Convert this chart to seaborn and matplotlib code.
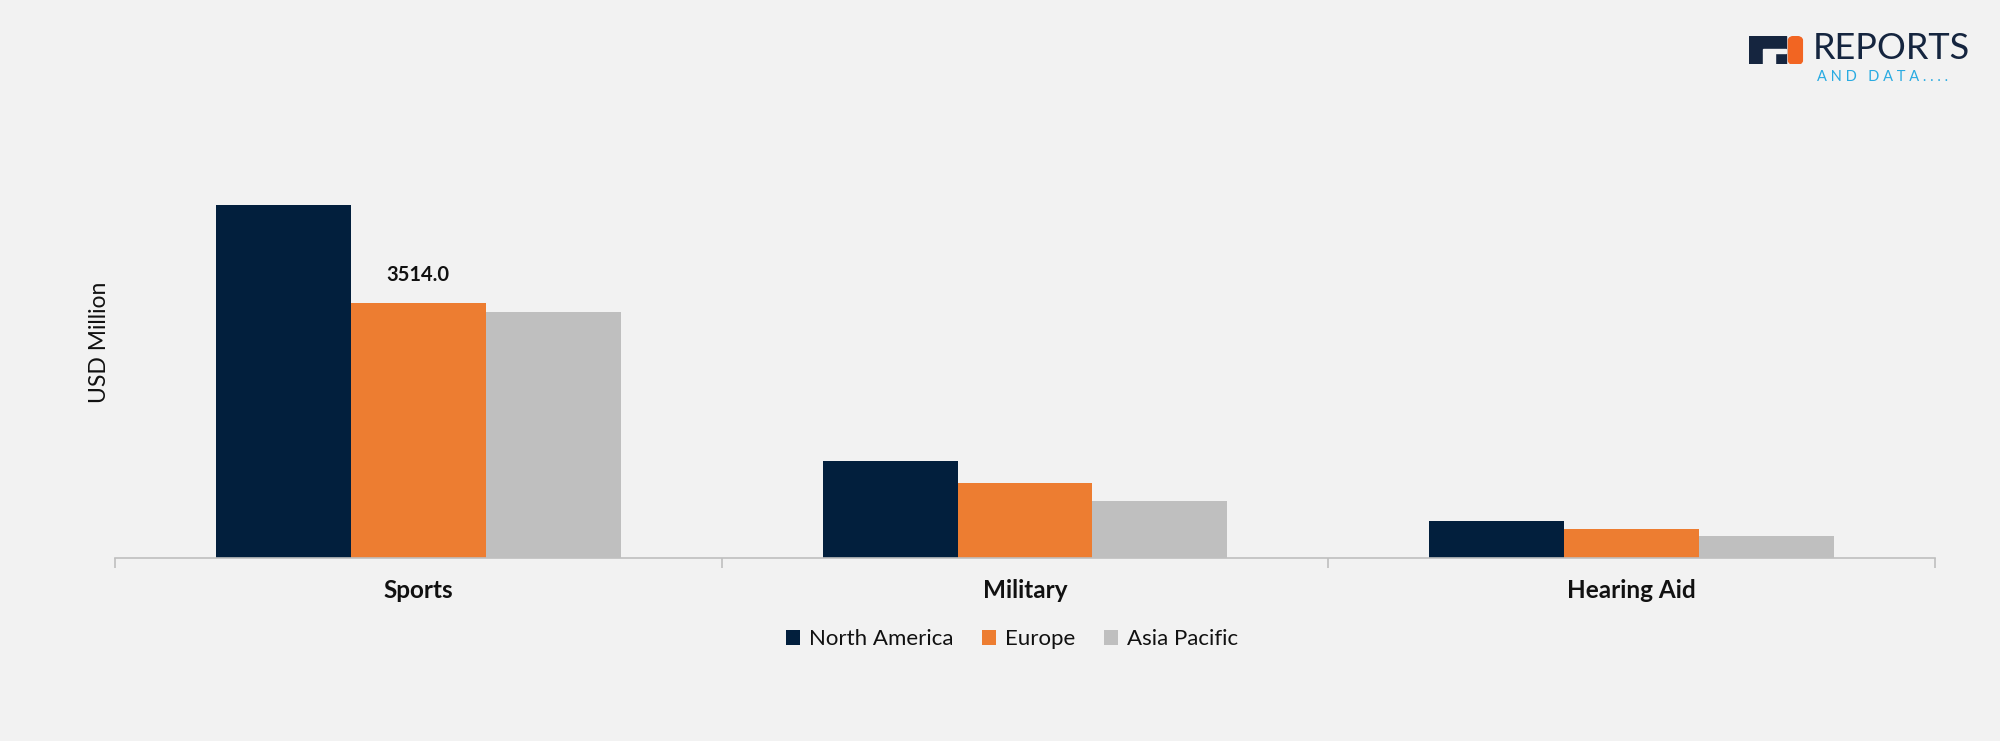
import pandas as pd
import matplotlib.pyplot as plt
import seaborn as sns
from matplotlib.patches import Rectangle, FancyBboxPatch

# data (USD Million)
categories = ['Sports', 'Military', 'Hearing Aid']
regions = ['North America', 'Europe', 'Asia Pacific']
north_america = [4876, 1335, 515]
europe = [3514.0, 1032, 405]
asia_pacific = [3390, 785, 305]

colors = ['#021F3D', '#ED7D31', '#BFBFBF']
bg = '#F2F2F2'

df = pd.DataFrame({
    'Application': categories * 3,
    'Region': [r for r in regions for _ in categories],
    'Value': north_america + europe + asia_pacific,
})

sns.set_theme(style='white')
plt.rcParams['font.family'] = ['Lato', 'DejaVu Sans']

fig = plt.figure(figsize=(20, 7.41), dpi=100, facecolor=bg)
ax = fig.add_axes([0.0575, 0.247, 0.91, 0.55])
ax.set_facecolor(bg)

sns.barplot(data=df, x='Application', y='Value', hue='Region',
            hue_order=regions, order=categories, palette=colors,
            width=0.667, gap=0, saturation=1, errorbar=None,
            linewidth=0, ax=ax)

ax.set_xlim(-0.5, 2.5)
ax.set_ylim(0, 5622)

# value label only on Europe / Sports
ax.bar_label(ax.containers[1], labels=['3514.0', '', ''], padding=13,
             fontsize=14.5, fontweight='bold', color='#111111')

for s in ['top', 'right', 'left']:
    ax.spines[s].set_visible(False)
ax.spines['bottom'].set_color('#BFBFBF')
ax.spines['bottom'].set_linewidth(1.2)

ax.set_yticks([])
ax.set_xticks(range(len(categories)))
ax.set_xticklabels(categories, fontsize=17.5, fontweight='bold', color='#111111')
ax.tick_params(axis='x', which='major', length=0, pad=15)
ax.set_xticks([-0.5, 0.5, 1.5, 2.5], minor=True)
ax.tick_params(axis='x', which='minor', length=7, color='#BFBFBF', width=1.2,
               direction='out', bottom=True)

ax.set_xlabel('')
ax.set_ylabel('USD Million', fontsize=16.5, color='#111111', labelpad=0)
ax.yaxis.set_label_coords(-0.0025, 0.53)

handles, labels = ax.get_legend_handles_labels()
ax.legend(handles, labels, loc='center', bbox_to_anchor=(0.493, -0.20),
          ncol=3, frameon=False, fontsize=16, handlelength=0.62,
          handleheight=0.62, handletextpad=0.4, columnspacing=1.3,
          labelcolor='#111111')

# logo
icon = fig.add_axes([0.8745, 0.913, 0.029, 0.038])
icon.set_xlim(0, 1)
icon.set_ylim(0, 1)
icon.axis('off')
icon.add_patch(Rectangle((0, 0), 0.64, 1, color='#15253F'))
icon.add_patch(Rectangle((0.24, 0.42), 0.40, 0.14, color=bg))
icon.add_patch(Rectangle((0.24, 0), 0.2, 0.42, color=bg))
icon.add_patch(FancyBboxPatch((0.68, 0.0), 0.24, 1.0,
                              boxstyle='round,pad=0,rounding_size=0.14',
                              color='#F26522'))
fig.text(0.9065, 0.912, 'REPORTS', fontsize=26, color='#15253F',
         ha='left', va='bottom')
fig.text(0.9085, 0.896, 'A N D   D A T A . . . .', fontsize=10.5,
         color='#29ABE2', ha='left', va='center')

plt.savefig('out.png', dpi=100, facecolor=bg)
